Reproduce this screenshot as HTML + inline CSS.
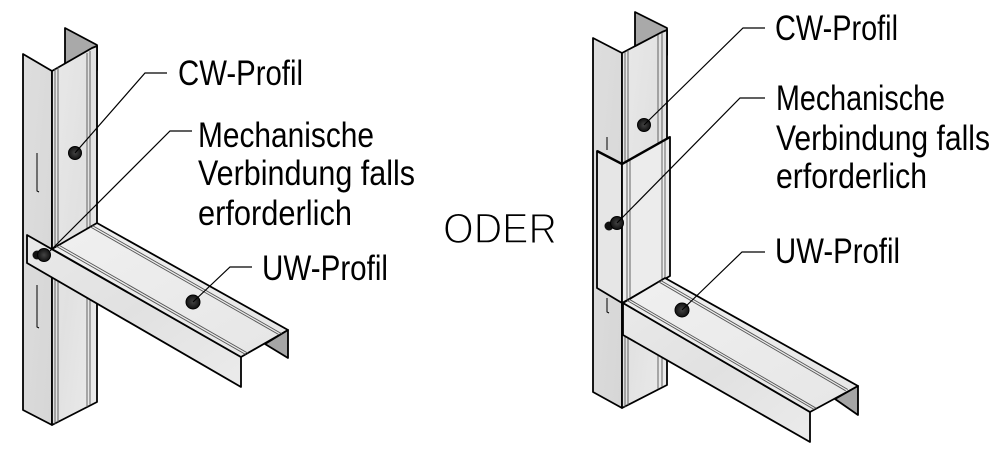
<!DOCTYPE html>
<html>
<head>
<meta charset="utf-8">
<style>
html,body{margin:0;padding:0;background:#fff;}
svg{display:block;}
.lbl{font-family:"Liberation Sans",Arial,sans-serif;font-size:35px;fill:#000;}
.oder{font-family:"Liberation Sans",Arial,sans-serif;font-size:43px;fill:#000;stroke:#fff;stroke-width:1.4px;}
.o{stroke:#000;stroke-width:1.8;stroke-linejoin:round;}
.t{stroke:#555;stroke-width:0.9;fill:none;}
.d{stroke:#000;stroke-width:1;fill:none;}
.ld{stroke:#000;stroke-width:1.2;fill:none;}
</style>
</head>
<body>
<svg width="1000" height="453" viewBox="0 0 1000 453" xmlns="http://www.w3.org/2000/svg">
<defs>
<linearGradient id="gF" x1="0" y1="0" x2="1" y2="1">
<stop offset="0" stop-color="#e9e9e9"/><stop offset="0.5" stop-color="#e1e1e1"/><stop offset="1" stop-color="#ebebeb"/>
</linearGradient>
<linearGradient id="gL" x1="0" y1="0" x2="1" y2="1">
<stop offset="0" stop-color="#dedede"/><stop offset="1" stop-color="#d6d6d6"/>
</linearGradient>
<linearGradient id="gT" x1="0" y1="0" x2="1" y2="1">
<stop offset="0" stop-color="#f0f0f0"/><stop offset="1" stop-color="#e6e6e6"/>
</linearGradient>
<radialGradient id="gS" cx="0.5" cy="0.5" r="0.5">
<stop offset="0" stop-color="#444"/><stop offset="1" stop-color="#111"/>
</radialGradient>
</defs>

<!-- ================= LEFT ASSEMBLY ================= -->
<!-- stud back inner flange -->
<polygon points="65,28 97,45 97,70 65,80" fill="#a9a9a9" class="o"/>
<!-- stud left face -->
<polygon points="23,54 52,71 52,425 23,410" fill="url(#gL)" class="o"/>
<!-- stud front face -->
<polygon points="52,71 92,48 97,46 97,402 52,425" fill="url(#gF)" class="o"/>
<line x1="65" y1="28" x2="65" y2="63" class="d"/>
<!-- stud fold lines -->
<line x1="55" y1="69" x2="55" y2="424" class="t"/>
<line x1="58" y1="67" x2="58" y2="422" class="t"/>
<line x1="87" y1="53" x2="87" y2="407" class="t"/>
<line x1="90" y1="51" x2="90" y2="405" class="t"/>
<!-- slots -->
<path d="M37,153 L37,191 L39,192" class="d"/>
<path d="M37,285 L37,327 L39,328" class="d"/>

<!-- track -->
<polygon points="27,235 241,357 241,387 27,263" fill="url(#gF)" class="o"/>
<polygon points="52,249 97,223 288,330 241,357" fill="url(#gT)" class="o"/>
<polygon points="265,344 288,330 288,358" fill="#a5a5a5" class="o"/>
<line x1="56.5" y1="246.4" x2="245.5" y2="354.4" class="t"/>
<line x1="58.8" y1="245.1" x2="247.8" y2="353.1" class="t"/>
<line x1="90.3" y1="226.9" x2="279.3" y2="334.9" class="t"/>
<line x1="92.5" y1="225.6" x2="281.5" y2="333.6" class="t"/>

<!-- screws left -->
<circle cx="75" cy="153" r="6.5" fill="url(#gS)" stroke="#000" stroke-width="1"/>
<circle cx="37" cy="255" r="4.5" fill="#111"/>
<circle cx="44" cy="255" r="6.5" fill="url(#gS)" stroke="#000" stroke-width="1"/>
<circle cx="193" cy="302" r="7" fill="url(#gS)" stroke="#000" stroke-width="1"/>

<!-- leaders left -->
<polyline points="167,73 145,73 75,153" class="ld"/>
<polyline points="192,131 170,131 50,251" class="ld"/>
<polyline points="252,267 230,267 193,302" class="ld"/>

<!-- labels left -->
<text class="lbl" x="178" y="85" textLength="125" lengthAdjust="spacingAndGlyphs">CW-Profil</text>
<text class="lbl" x="198" y="147" textLength="176" lengthAdjust="spacingAndGlyphs">Mechanische</text>
<text class="lbl" x="198" y="185" textLength="217" lengthAdjust="spacingAndGlyphs">Verbindung falls</text>
<text class="lbl" x="198" y="225" textLength="154" lengthAdjust="spacingAndGlyphs">erforderlich</text>
<text class="lbl" x="262" y="280" textLength="126" lengthAdjust="spacingAndGlyphs">UW-Profil</text>

<!-- ODER -->
<text class="oder" x="443" y="243" textLength="114" lengthAdjust="spacingAndGlyphs">ODER</text>

<!-- ================= RIGHT ASSEMBLY ================= -->
<!-- stud back inner flange -->
<polygon points="635,12 667,28 667,55 635,65" fill="#a9a9a9" class="o"/>
<!-- stud left face -->
<polygon points="593,38 622,53 622,408 593,392" fill="url(#gL)" class="o"/>
<!-- stud front face -->
<polygon points="622,53 662,32 667,30 667,385 622,408" fill="url(#gF)" class="o"/>
<line x1="635" y1="12" x2="635" y2="47" class="d"/>
<line x1="625" y1="52" x2="625" y2="407" class="t"/>
<line x1="628" y1="50" x2="628" y2="405" class="t"/>
<line x1="658" y1="35" x2="658" y2="389" class="t"/>
<line x1="662" y1="33" x2="662" y2="387" class="t"/>
<line x1="607" y1="137" x2="607" y2="150" class="d"/>
<path d="M607,298 L607,312 L609,313" class="d"/>

<!-- sleeve -->
<polygon points="597,151 622,164 622,303 597,288" fill="#e6e6e6" class="o"/>
<polygon points="622,164 670,137 670,276 622,303" fill="#ececec" class="o"/>
<line x1="627" y1="162" x2="627" y2="301" class="t"/>
<line x1="630" y1="160" x2="630" y2="299" class="t"/>
<line x1="662" y1="141" x2="662" y2="280" class="t"/>
<line x1="665" y1="140" x2="665" y2="279" class="t"/>
<polyline points="597,151 622,164 670,137" fill="none" stroke="#000" stroke-width="2.4"/>

<!-- track -->
<polygon points="623,303 810,412 810,442 623,335" fill="url(#gF)" class="o"/>
<polygon points="623,303 665,278 858,386 810,412" fill="url(#gT)" class="o"/>
<polygon points="835,399 858,386 858,415" fill="#a5a5a5" class="o"/>
<line x1="627.2" y1="300.5" x2="814.2" y2="409.5" class="t"/>
<line x1="629.3" y1="299.3" x2="816.3" y2="408.3" class="t"/>
<line x1="658.7" y1="281.8" x2="845.7" y2="390.8" class="t"/>
<line x1="660.8" y1="280.5" x2="847.8" y2="389.5" class="t"/>

<!-- screws right -->
<circle cx="644" cy="125" r="6.5" fill="url(#gS)" stroke="#000" stroke-width="1"/>
<circle cx="609" cy="226" r="4.5" fill="#111"/>
<circle cx="617" cy="223" r="6.5" fill="url(#gS)" stroke="#000" stroke-width="1"/>
<circle cx="682" cy="310" r="7" fill="url(#gS)" stroke="#000" stroke-width="1"/>

<!-- leaders right -->
<polyline points="765,28 743,28 644,125" class="ld"/>
<polyline points="765,98 740,98 617,223" class="ld"/>
<polyline points="765,252 742,252 682,310" class="ld"/>

<!-- labels right -->
<text class="lbl" x="775" y="40" textLength="123" lengthAdjust="spacingAndGlyphs">CW-Profil</text>
<text class="lbl" x="776" y="110" textLength="169" lengthAdjust="spacingAndGlyphs">Mechanische</text>
<text class="lbl" x="776" y="150" textLength="214" lengthAdjust="spacingAndGlyphs">Verbindung falls</text>
<text class="lbl" x="776" y="188" textLength="151" lengthAdjust="spacingAndGlyphs">erforderlich</text>
<text class="lbl" x="775" y="263" textLength="125" lengthAdjust="spacingAndGlyphs">UW-Profil</text>
</svg>
</body>
</html>
